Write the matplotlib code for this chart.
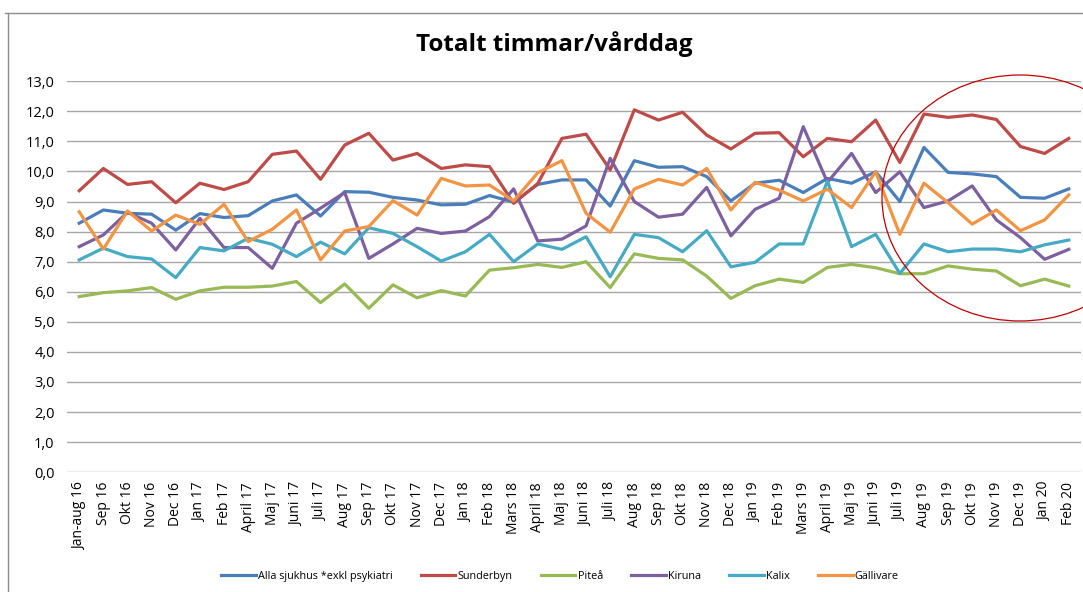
import matplotlib.pyplot as plt
from matplotlib.patches import Ellipse
from matplotlib.lines import Line2D

months = ["Jan-aug 16", "Sep 16", "Okt 16", "Nov 16", "Dec 16", "Jan 17", "Feb 17",
          "April 17", "Maj 17", "Juni 17", "Juli 17", "Aug 17", "Sep 17", "Okt 17",
          "Nov 17", "Dec 17", "Jan 18", "Feb 18", "Mars 18", "April 18", "Maj 18",
          "Juni 18", "Juli 18", "Aug 18", "Sep 18", "Okt 18", "Nov 18", "Dec 18",
          "Jan 19", "Feb 19", "Mars 19", "April 19", "Maj 19", "Juni 19", "Juli 19",
          "Aug 19", "Sep 19", "Okt 19", "Nov 19", "Dec 19", "Jan 20", "Feb 20"]

alla = [8.28, 8.72, 8.61, 8.58, 8.05, 8.60, 8.47, 8.53, 9.02, 9.22, 8.52, 9.33, 9.31, 9.14,
        9.05, 8.89, 8.91, 9.20, 8.98, 9.57, 9.72, 9.72, 8.85, 10.36, 10.14, 10.16, 9.83, 9.02,
        9.61, 9.71, 9.30, 9.77, 9.61, 9.99, 9.00, 10.80, 9.97, 9.92, 9.83, 9.14, 9.11, 9.42]
sunderbyn = [9.36, 10.10, 9.57, 9.66, 8.96, 9.61, 9.40, 9.66, 10.57, 10.68, 9.74, 10.88, 11.27,
             10.38, 10.60, 10.10, 10.22, 10.16, 8.94, 9.60, 11.10, 11.24, 10.05, 12.05, 11.71,
             11.97, 11.21, 10.75, 11.27, 11.29, 10.49, 11.10, 10.99, 11.71, 10.30, 11.91, 11.80,
             11.88, 11.73, 10.83, 10.60, 11.10]
pitea = [5.84, 5.97, 6.03, 6.14, 5.75, 6.03, 6.15, 6.15, 6.19, 6.34, 5.64, 6.26, 5.45, 6.23,
         5.80, 6.04, 5.86, 6.72, 6.80, 6.91, 6.81, 7.00, 6.14, 7.26, 7.11, 7.06, 6.52, 5.78,
         6.20, 6.42, 6.31, 6.81, 6.91, 6.80, 6.60, 6.60, 6.86, 6.75, 6.69, 6.20, 6.42, 6.19]
kiruna = [7.50, 7.89, 8.64, 8.28, 7.39, 8.44, 7.47, 7.47, 6.78, 8.28, 8.78, 9.30, 7.11, 7.59,
          8.11, 7.94, 8.02, 8.50, 9.42, 7.69, 7.75, 8.19, 10.44, 9.00, 8.48, 8.58, 9.47, 7.86,
          8.74, 9.11, 11.49, 9.64, 10.60, 9.30, 9.99, 8.80, 9.02, 9.52, 8.39, 7.80, 7.08, 7.41]
kalix = [7.06, 7.45, 7.17, 7.09, 6.47, 7.47, 7.36, 7.78, 7.58, 7.17, 7.65, 7.26, 8.13, 7.94,
         7.50, 7.02, 7.33, 7.91, 7.00, 7.59, 7.41, 7.83, 6.50, 7.91, 7.80, 7.33, 8.03, 6.83,
         6.98, 7.59, 7.59, 9.68, 7.50, 7.91, 6.61, 7.59, 7.33, 7.42, 7.42, 7.33, 7.56, 7.72]
gallivare = [8.66, 7.42, 8.69, 8.02, 8.55, 8.24, 8.91, 7.67, 8.08, 8.72, 7.06, 8.02, 8.17, 9.03,
             8.55, 9.77, 9.52, 9.55, 9.02, 9.96, 10.36, 8.61, 7.98, 9.42, 9.74, 9.55, 10.10, 8.72,
             9.64, 9.38, 9.02, 9.41, 8.80, 9.99, 7.91, 9.61, 8.96, 8.25, 8.72, 8.03, 8.39, 9.22]

series = [
    ("Alla sjukhus *exkl psykiatri", alla, "#4A7EBB"),
    ("Sunderbyn", sunderbyn, "#BE4B48"),
    ("Piteå", pitea, "#98B954"),
    ("Kiruna", kiruna, "#7D60A0"),
    ("Kalix", kalix, "#46AAC5"),
    ("Gällivare", gallivare, "#F39443"),
]

plt.rcParams['font.family'] = ['Open Sans', 'DejaVu Sans']

fig = plt.figure(figsize=(10.83, 5.92), dpi=100)
ax = fig.add_axes([0.062, 0.2024, 0.936, 0.6603])

x = list(range(len(months)))
for name, vals, col in series:
    ax.plot(x, vals, color=col, lw=2.3, label=name, solid_joinstyle='round')

ax.set_xlim(-0.5, len(months) - 0.5)
ax.set_ylim(0, 13)
ax.set_yticks(range(14))
ax.set_yticklabels([f"{v},0" for v in range(14)], fontsize=10.5)
ax.set_xticks(x)
ax.set_xticklabels(months, rotation=90, fontsize=10)
ax.tick_params(axis='y', length=0, pad=9)
ax.tick_params(axis='x', length=0, pad=7)
ax.grid(axis='y', color='#a6a6a6', lw=1)
ax.set_axisbelow(True)
for s in ax.spines.values():
    s.set_visible(False)

fig.text(0.512, 0.925, "Totalt timmar/vårddag", ha='center', va='center',
         fontsize=17.5, fontweight='bold')

handles = [Line2D([], [], color=c, lw=2.3) for _, _, c in series]
fig.legend(handles, [n for n, _, _ in series], loc='center', ncol=6,
           bbox_to_anchor=(0.517, 0.027), frameon=False, fontsize=7.8,
           handlelength=3.2, handletextpad=0.2, columnspacing=2.6)

# chart frame (top and left edges)
fig.add_artist(Line2D([5 / 1083, 1], [1 - 13 / 592, 1 - 13 / 592], color='#8c8c8c', lw=1))
fig.add_artist(Line2D([8 / 1083, 8 / 1083], [0, 1 - 13 / 592], color='#8c8c8c', lw=1))

# red highlight ellipse
ell = Ellipse((1020 / 1083, 1 - 198 / 592), 276 / 1083, 246 / 592,
              transform=fig.transFigure, fill=False, edgecolor='#C00000', lw=0.9)
fig.add_artist(ell)

fig.savefig("out.png", dpi=100)
